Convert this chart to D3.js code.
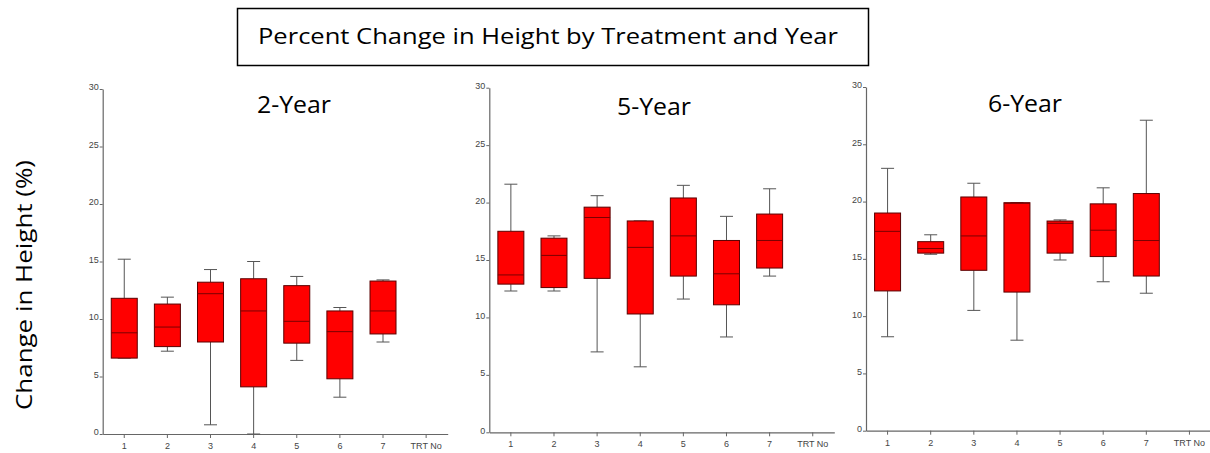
<!DOCTYPE html>
<html><head><meta charset="utf-8">
<script src="https://cdn.jsdelivr.net/npm/d3@7"></script>
<style>body{margin:0;background:#fff}svg{display:block}</style>
</head><body>
<svg id="c" width="1210" height="453"></svg>
<script>
const categories = ["1","2","3","4","5","6","7","TRT No"];
const treatments = ["1","2","3","4","5","6","7"];
const yTicks = [0,5,10,15,20,25,30];
const panelTitles = ["2-Year","5-Year","6-Year"];

const y2Low  = [6.6, 7.2, 0.8, 0.0, 6.4, 3.2, 8.0];
const y2Q1   = [6.6, 7.6, 8.0, 4.1, 7.9, 4.8, 8.7];
const y2Med  = [8.8, 9.3, 12.2, 10.7, 9.8, 8.9, 10.7];
const y2Q3   = [11.8, 11.3, 13.2, 13.5, 12.9, 10.7, 13.3];
const y2High = [15.2, 11.9, 14.3, 15.0, 13.7, 11.0, 13.4];

const y5Low  = [12.3, 12.3, 7.0, 5.7, 11.6, 8.3, 13.6];
const y5Q1   = [12.9, 12.6, 13.4, 10.3, 13.6, 11.1, 14.3];
const y5Med  = [13.7, 15.4, 18.7, 16.1, 17.1, 13.8, 16.7];
const y5Q3   = [17.5, 16.9, 19.6, 18.4, 20.4, 16.7, 19.0];
const y5High = [21.6, 17.1, 20.6, 18.4, 21.5, 18.8, 21.2];

const y6Low  = [8.2, 15.4, 10.5, 7.9, 14.9, 13.0, 12.0];
const y6Q1   = [12.2, 15.5, 14.0, 12.1, 15.5, 15.2, 13.5];
const y6Med  = [17.4, 15.9, 17.0, 19.85, 18.1, 17.5, 16.6];
const y6Q3   = [19.0, 16.5, 20.4, 19.9, 18.3, 19.8, 20.7];
const y6High = [22.9, 17.1, 21.6, 19.9, 18.4, 21.2, 27.1];

const panels = [
  {title: panelTitles[0], low:y2Low, q1:y2Q1, med:y2Med, q3:y2Q3, high:y2High, x0:102.7, top:89, bottom:434, tx:294, ty:113},
  {title: panelTitles[1], low:y5Low, q1:y5Q1, med:y5Med, q3:y5Q3, high:y5High, x0:489.3, top:87.7, bottom:432.3, tx:654, ty:115},
  {title: panelTitles[2], low:y6Low, q1:y6Q1, med:y6Med, q3:y6Q3, high:y6High, x0:866, top:87, bottom:430.7, tx:1025, ty:112}
];

const svg = d3.select("#c");
const W = 345;

// Title box
svg.append("rect").attr("x",237.5).attr("y",8.5).attr("width",631).attr("height",57)
  .attr("fill","#fff").attr("stroke","#000").attr("stroke-width",1.5);
svg.append("text").attr("x",548).attr("y",44).attr("text-anchor","middle")
  .attr("font-family","Open Sans").attr("font-size",22).attr("fill","#000")
  .attr("textLength",580).attr("lengthAdjust","spacingAndGlyphs")
  .text("Percent Change in Height by Treatment and Year");

// Y label
svg.append("text").attr("transform","translate(32,285) rotate(-90)").attr("text-anchor","middle")
  .attr("font-family","Open Sans").attr("font-size",22).attr("fill","#000")
  .attr("textLength",250).attr("lengthAdjust","spacingAndGlyphs")
  .text("Change in Height (%)");

panels.forEach(p => {
  const g = svg.append("g");
  const x = d3.scaleBand().domain(categories).range([p.x0, p.x0 + W]);
  const y = d3.scaleLinear().domain([0,30]).range([p.bottom, p.top]);

  const xAxis = g.append("g").attr("transform",`translate(0,${p.bottom})`)
    .call(d3.axisBottom(x).tickSize(4).tickSizeOuter(0));
  const yAxis = g.append("g").attr("transform",`translate(${p.x0},0)`)
    .call(d3.axisLeft(y).tickValues(yTicks).tickSize(3).tickSizeOuter(0));
  [xAxis,yAxis].forEach(a => {
    a.select(".domain").attr("stroke","#666").attr("stroke-width",1.2);
    a.selectAll(".tick line").attr("stroke","#666");
    a.selectAll(".tick text").attr("fill","#444").attr("font-family","Liberation Sans, Arial")
      .attr("font-size",9);
  });
  yAxis.selectAll(".tick text").attr("dy","0.1em").attr("x",-4);
  xAxis.selectAll(".tick text").attr("dy","0.9em");

  const cx = i => x(treatments[i]) + x.bandwidth()/2;
  const bw = 26, cw = 13;
  treatments.forEach((t,i) => {
    const c = cx(i);
    g.append("line").attr("x1",c).attr("x2",c).attr("y1",y(p.high[i])).attr("y2",y(p.q3[i]))
      .attr("stroke","#555").attr("stroke-width",1);
    g.append("line").attr("x1",c).attr("x2",c).attr("y1",y(p.q1[i])).attr("y2",y(p.low[i]))
      .attr("stroke","#555").attr("stroke-width",1);
    g.append("line").attr("x1",c-cw/2).attr("x2",c+cw/2).attr("y1",y(p.high[i])).attr("y2",y(p.high[i]))
      .attr("stroke","#555").attr("stroke-width",1);
    g.append("line").attr("x1",c-cw/2).attr("x2",c+cw/2).attr("y1",y(p.low[i])).attr("y2",y(p.low[i]))
      .attr("stroke","#555").attr("stroke-width",1);
    g.append("rect").attr("x",c-bw/2).attr("width",bw)
      .attr("y",y(p.q3[i])).attr("height",y(p.q1[i])-y(p.q3[i]))
      .attr("fill","#ff0000").attr("stroke","#5a0000").attr("stroke-width",1);
    g.append("line").attr("x1",c-bw/2).attr("x2",c+bw/2).attr("y1",y(p.med[i])).attr("y2",y(p.med[i]))
      .attr("stroke","#7a0000").attr("stroke-width",1);
  });

  svg.append("text").attr("x",p.tx).attr("y",p.ty).attr("text-anchor","middle")
    .attr("font-family","Open Sans").attr("font-size",24).attr("fill","#000")
    .attr("textLength",74).attr("lengthAdjust","spacingAndGlyphs").text(p.title);
});
</script>
</body></html>
